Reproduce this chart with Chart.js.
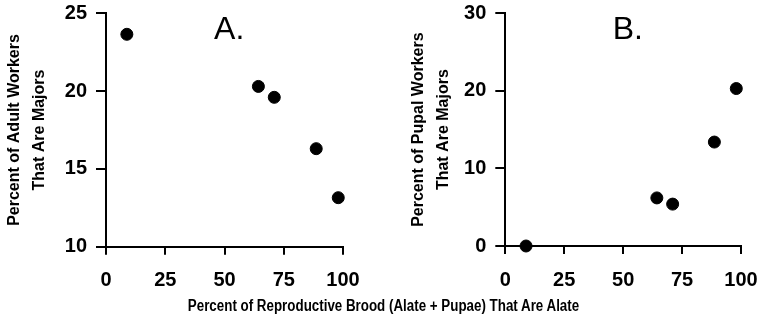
<!DOCTYPE html>
<html>
<head>
<meta charset="utf-8">
<script src="https://cdn.jsdelivr.net/npm/chart.js@4"></script>
<style>
  body { margin: 0; background: #fff; }
  #wrap { position: relative; width: 759px; height: 315px; overflow: hidden; }
  #chartA { position: absolute; left: 0; top: 0; }
  #chartB { position: absolute; left: 379px; top: 0; }
  #xtitle {
    position: absolute; left: 4px; top: 298px; width: 759px;
    text-align: center; font: bold 16px/16px 'Liberation Sans', Arial, sans-serif;
    color: #000; white-space: nowrap;
    transform: scaleX(0.835); transform-origin: 379.5px 50%;
  }
</style>
</head>
<body>
<div id="wrap">
  <canvas id="chartA" width="379" height="315"></canvas>
  <canvas id="chartB" width="380" height="315"></canvas>
  <div id="xtitle">Percent of Reproductive Brood (Alate + Pupae) That Are Alate</div>
</div>
<script>
// percent of reproductive brood that are alate (same colonies in both panels)
const broodAlate = [8.8, 64.3, 71.0, 88.7, 98.0];
// panel A: percent of adult workers that are majors
const adultMajors = [23.65, 20.3, 19.6, 16.3, 13.15];
// panel B: percent of pupal workers that are majors
const pupalMajors = [0, 6.2, 5.4, 13.4, 20.3];

const xTicks = [0, 25, 50, 75, 100];
const yTicksA = [10, 15, 20, 25];
const yTicksB = [0, 10, 20, 30];

const FONT = "'Liberation Sans', Arial, Helvetica, sans-serif";

// big panel letter drawn at a data position
const panelLabel = {
  id: 'panelLabel',
  afterDraw(chart, args, opts) {
    const {ctx, scales} = chart;
    ctx.save();
    ctx.fillStyle = '#000';
    ctx.font = '32px ' + FONT;
    ctx.textAlign = 'center';
    ctx.textBaseline = 'middle';
    ctx.fillText(opts.text, scales.x.getPixelForValue(opts.x), scales.y.getPixelForValue(opts.y));
    ctx.restore();
  }
};

function makeChart(id, yVals, yTicks, title, lbl, geo) {
  return new Chart(document.getElementById(id), {
    type: 'scatter',
    data: {
      datasets: [{
        data: broodAlate.map((x, i) => ({x: x, y: yVals[i]})),
        backgroundColor: '#000',
        borderColor: '#000',
        borderWidth: 1,
        pointRadius: 6,
        pointHoverRadius: 6,
        clip: false
      }]
    },
    options: {
      responsive: false,
      animation: false,
      events: [],
      layout: { padding: { left: 0, top: 13.3, right: geo.right, bottom: 0 } },
      plugins: {
        legend: { display: false },
        tooltip: { enabled: false },
        panelLabel: lbl
      },
      scales: {
        x: {
          type: 'linear',
          min: 0, max: 100,
          afterBuildTicks: s => { s.ticks = xTicks.map(v => ({value: v})); },
          afterFit: s => { s.height = geo.xh; s.paddingLeft = 0; s.paddingRight = 0; },
          border: { display: true, color: '#000', width: 2 },
          grid: { drawOnChartArea: false, drawTicks: true, tickLength: 8, color: '#000', lineWidth: 2 },
          ticks: { color: '#000', padding: 14, font: { family: FONT, size: 20, weight: 'bold' }, maxRotation: 0 }
        },
        y: {
          type: 'linear',
          min: yTicks[0], max: yTicks[yTicks.length - 1],
          afterBuildTicks: s => { s.ticks = yTicks.map(v => ({value: v})); },
          afterFit: s => { s.width = geo.yw; s.paddingTop = 0; s.paddingBottom = 0; },
          border: { display: true, color: '#000', width: 2 },
          grid: { drawOnChartArea: false, drawTicks: true, tickLength: 10, color: '#000', lineWidth: 2 },
          ticks: { color: '#000', padding: 9, font: { family: FONT, size: 20, weight: 'bold' } },
          title: {
            display: true,
            text: title,
            color: '#000',
            padding: { top: geo.tp, bottom: 0 },
            font: { family: FONT, size: 16, weight: 'bold', lineHeight: 1.5625 }
          }
        }
      }
    },
    plugins: [panelLabel]
  });
}

makeChart('chartA', adultMajors, yTicksA,
  ['Percent of Adult Workers', 'That Are Majors'],
  { text: 'A.', x: 52, y: 23.9 },
  { right: 36, xh: 68.3, yw: 106, tp: 2 });

makeChart('chartB', pupalMajors, yTicksB,
  ['Percent of Pupal Workers', 'That Are Majors'],
  { text: 'B.', x: 52, y: 27.8 },
  { right: 18, xh: 69, yw: 126.3, tp: 27.5 });
</script>
</body>
</html>
